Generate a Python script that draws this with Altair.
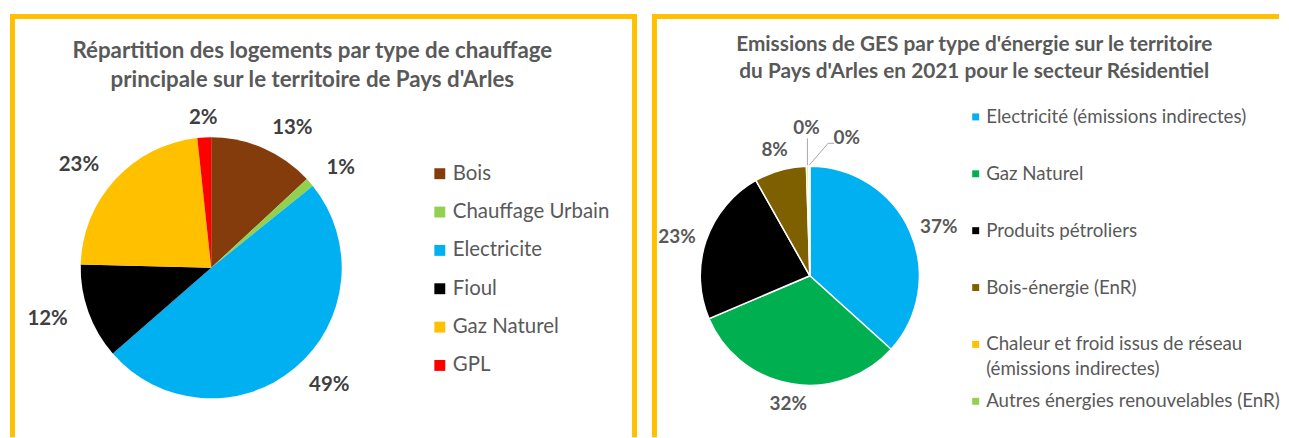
import altair as alt
import pandas as pd

# ---------------- data ----------------
left_title = ["Répartition des logements par type de chauffage",
              "principale  sur le territoire de Pays d'Arles"]
left_cats = ["Bois", "Chauffage Urbain", "Electricite", "Fioul", "Gaz Naturel", "GPL"]
left_vals = [13.1, 1.1, 49.4, 11.8, 22.9, 1.7]
left_colors = ["#843C0C", "#92D050", "#00B0F0", "#000000", "#FFC000", "#FF0000"]

right_title = ["Emissions de GES par type d'énergie sur le territoire",
               "du Pays d'Arles en 2021 pour le secteur Résidentiel"]
right_cats = ["Electricité (émissions indirectes)", "Gaz Naturel", "Produits pétroliers",
              "Bois-énergie (EnR)", "Chaleur et froid issus de réseau\n(émissions indirectes)",
              "Autres énergies renouvelables (EnR)"]
right_vals = [36.7, 31.9, 23.2, 7.7, 0.3, 0.2]
right_colors = ["#00B0F0", "#00B050", "#000000", "#7F6000", "#FFC000", "#92D050"]

FONT = "Lato"
GREY = "#595959"
FRAME = "#FFC000"
H = 430
WR = 641


def frame_rule(x, y, x2, y2):
    return alt.Chart(alt.Data(values=[{}])).mark_rule(
        color=FRAME, strokeWidth=5, strokeCap="square"
    ).encode(x=alt.value(x), y=alt.value(y), x2=alt.value(x2), y2=alt.value(y2))


def panel(cats, vals, colors, title, c):
    df = pd.DataFrame({"cat": cats, "value": vals, "idx": list(range(len(cats)))})
    total = float(sum(vals))
    base = alt.Chart(df)
    color = alt.Color("cat:N", scale=alt.Scale(domain=cats, range=colors), legend=None)
    tscale = alt.Scale(domain=[0, total])
    cx, cy = c["cx"], c["cy"]

    arcs = base.mark_arc(radius=c["r"], **c["arc_style"]).encode(
        theta=alt.Theta("value:Q", stack=True, scale=tscale),
        order=alt.Order("idx:Q"),
        color=color,
        x=alt.value(cx), y=alt.value(cy),
    )

    lab = base.transform_window(
        cum="sum(value)", sort=[alt.SortField("idx")], frame=[None, 0]
    ).transform_joinaggregate(total="sum(value)").transform_calculate(
        mid="datum.cum - datum.value/2",
        s="sin(2*PI*(datum.cum - datum.value/2)/datum.total)",
        lbl="format(datum.value/datum.total, '.0%')",
    )

    def lab_layer(filt, align, r, **kw):
        return lab.transform_filter(filt).mark_text(
            align=align, baseline="middle", radius=r, font=FONT,
            fontSize=c["lab_fs"], fontWeight="bold", color=c["lab_col"], **kw
        ).encode(
            theta=alt.Theta("mid:Q", stack=False, scale=tscale),
            text="lbl:N", x=alt.value(cx), y=alt.value(cy),
        )

    big = "datum.value >= 1"
    layers = [arcs,
              lab_layer(f"{big} && datum.s > 0.35", "left", c["r_side"]),
              lab_layer(f"{big} && datum.s < -0.35", "right", c["r_side"]),
              lab_layer(f"{big} && abs(datum.s) <= 0.35", "center", c["r_mid"])]

    if c.get("small"):
        layers.append(lab_layer("datum.idx == 4", "center", c["r_small"]))
        layers.append(lab_layer("datum.idx == 5", "center", c["r_small"], dx=38, dy=10))
        lead = lab.transform_calculate(
            px=f"{cx} + {c['r_lead']}*sin(2*PI*datum.mid/datum.total)",
            py=f"{cy} - {c['r_lead']}*cos(2*PI*datum.mid/datum.total)",
        )
        for i, path in [(4, "M0,0L0,-27"), (5, "M0,0L19,-22L25,-22")]:
            layers.append(
                lead.transform_filter(f"datum.idx == {i}").mark_point(
                    shape=path, size=4, filled=False, strokeWidth=1, color="#A6A6A6", opacity=1
                ).encode(
                    x=alt.X("px:Q", scale=None, axis=None),
                    y=alt.Y("py:Q", scale=None, axis=None),
                )
            )

    yscale = alt.Scale(type="point", domain=cats, range=[c["ly0"], c["ly1"]], padding=0)
    leg_sq = base.mark_square(size=c["sq"], opacity=1).encode(
        x=alt.value(c["sqx"]), y=alt.Y("cat:N", scale=yscale, axis=None), color=color,
    )
    leg_tx = base.mark_text(
        align="left", baseline="top", dy=-round(0.49 * c["leg_fs"]), lineBreak="\n",
        lineHeight=c["leg_lh"], font=FONT, fontSize=c["leg_fs"], color=GREY,
    ).encode(
        x=alt.value(c["tx"]), y=alt.Y("cat:N", scale=yscale, axis=None), text="cat:N",
    )
    ttl = alt.Chart(alt.Data(values=[{"t": "\n".join(title)}])).mark_text(
        align="center", baseline="top", lineBreak="\n", lineHeight=c["t_lh"],
        font=FONT, fontSize=c["t_fs"], fontWeight="bold", color=GREY,
    ).encode(x=alt.value(c["ttx"]), y=alt.value(c["tty"]), text="t:N")

    layers += [leg_sq, leg_tx, ttl]
    layers += [frame_rule(*f) for f in c["frames"]]
    return alt.layer(*layers).resolve_scale(y="independent", x="independent").properties(
        width=c["w"], height=H
    )


left = panel(left_cats, left_vals, left_colors, left_title, dict(
    cx=201, cy=260, r=131, arc_style={},
    lab_fs=20.5, lab_col="#404040", r_side=153, r_mid=151,
    ly0=165.5, ly1=358, sq=120, sqx=430.5, tx=443.5, leg_fs=20.5, leg_lh=24,
    ttx=302.5, tty=31.5, t_fs=22.4, t_lh=29, w=630,
    frames=[(1.5, 7.8, 626, 7.8), (1.5, 7.8, 1.5, H - 2.5), (626, 7.8, 626, H - 2.5)],
))

right = panel(right_cats, right_vals, right_colors, right_title, dict(
    cx=170, cy=268, r=110, arc_style={"stroke": "white", "strokeWidth": 1.5},
    lab_fs=19, lab_col=GREY, r_side=121, r_mid=131,
    small=True, r_small=148, r_lead=111,
    ly0=108.5, ly1=394, sq=49, sqx=336.5, tx=347, leg_fs=18.8, leg_lh=25,
    ttx=335, tty=25.5, t_fs=20.9, t_lh=27, w=WR,
    frames=[(14, 7.8, WR - 2.5, 7.8), (14, 7.8, 14, H - 2.5)],
))

chart = alt.hconcat(left, right, spacing=2).resolve_scale(
    color="independent", theta="independent"
).properties(
    padding={"left": 0, "top": 0, "right": 0, "bottom": 0},
    background="white",
).configure_view(strokeWidth=0)

chart.save("out.html", embed_options={"renderer": "svg", "actions": False})
